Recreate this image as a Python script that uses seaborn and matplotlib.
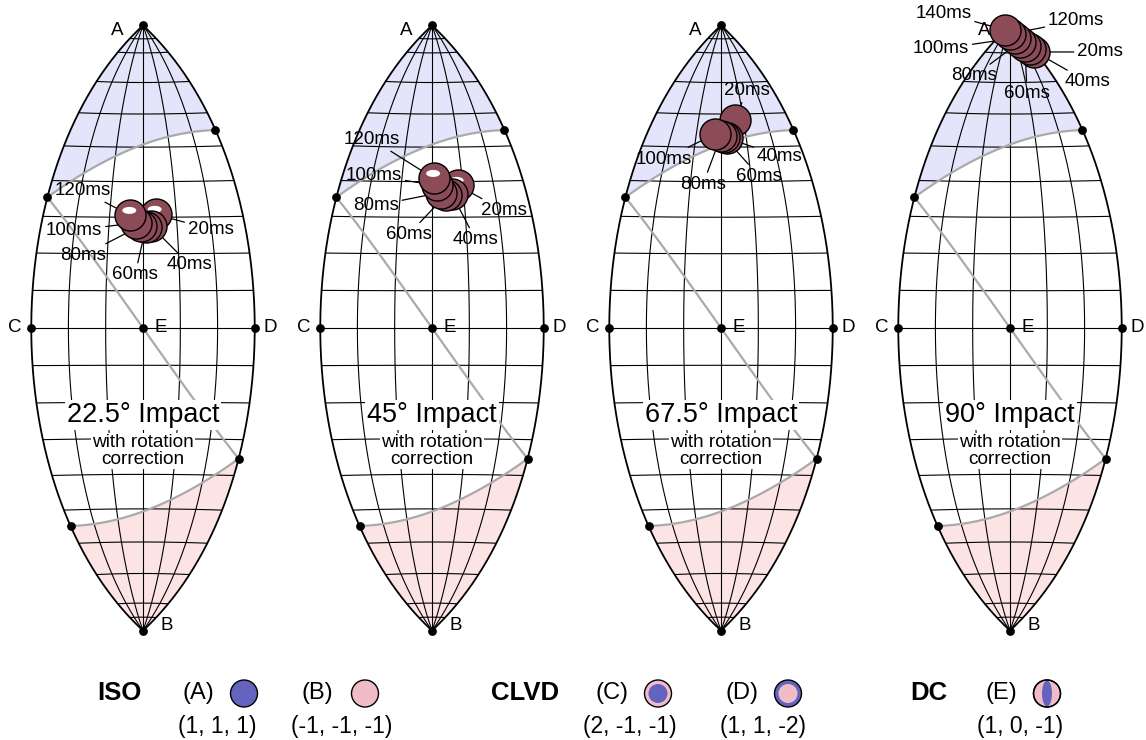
import numpy as np
import matplotlib
matplotlib.use("Agg")
import matplotlib.pyplot as plt
from matplotlib.patches import Circle, Ellipse, Polygon
import seaborn as sns

# ---- data: lune coordinates (longitude gamma, latitude delta, degrees) ----
titles = ["22.5° Impact", "45° Impact", "67.5° Impact", "90° Impact"]
subtitle = "with rotation\ncorrection"

times_1 = ["20ms", "40ms", "60ms", "80ms", "100ms", "120ms"]
lon_1 = [3.8, 2.3, 0.9, -0.6, -2.0, -3.8]
lat_1 = [30.8, 27.6, 27.4, 27.7, 28.5, 30.5]

times_2 = ["20ms", "40ms", "60ms", "80ms", "100ms", "120ms"]
lon_2 = [8.3, 6.2, 4.3, 2.8, 1.6, 0.7]
lat_2 = [38.9, 36.6, 36.1, 36.9, 38.9, 40.9]

times_3 = ["20ms", "40ms", "60ms", "80ms", "100ms"]
lon_3 = [6.1, 2.3, 1.2, 0.0, -2.4]
lat_3 = [58.2, 52.7, 53.0, 53.3, 53.9]

times_4 = ["20ms", "40ms", "60ms", "80ms", "100ms", "120ms", "140ms"]
lon_4 = [28.8, 26.7, 22.7, 18.5, 12.0, 0.0, -28.0]
lat_4 = [80.1, 81.2, 82.3, 83.8, 85.3, 86.8, 88.2]

groups = ["ISO", "CLVD", "DC"]
items = ["(A)", "(B)", "(C)", "(D)", "(E)"]
eigenvalues = ["(1, 1, 1)", "(-1, -1, -1)", "(2, -1, -1)", "(1, 1, -2)", "(1, 0, -1)"]

# ---- layout / style ----
FIG_W, FIG_H = 1146, 740
S = 214.0                       # pixels per projection unit
panel_cx = [143, 432, 721, 1010]
CY = 328
LUNE_BOTTOM = 645

# label offsets in pixels (right, down) from each point
offsets_1 = [(55, 15), (39, 39), (-11, 48), (-58, 30), (-62, 8), (-48, -25)]
offsets_2 = [(46, 25), (24, 46), (-37, 39), (-65, 13), (-63, -10), (-62, -39)]
offsets_3 = [(12, -29), (53, 18), (35, 39), (-18, 48), (-51, 25)]
offsets_4 = [(66, 0), (58, 33), (2, 47), (-46, 34), (-74, 11), (66, -13), (-62, -17)]
shine = [True, True, False, False]

BLUE_FILL = "#e4e4fa"
PINK_FILL = "#fde4e4"
GREY = "#aaaaaa"
POINT = "#8b4b57"
BLUE = "#6464be"
PINK = "#f0bcc8"


def hammer(lon, lat):
    half = np.radians(np.asarray(lon, dtype=float)) / 2
    phi = np.radians(np.asarray(lat, dtype=float))
    d = np.sqrt(1 + np.cos(phi) * np.cos(half))
    return 2 * np.sqrt(2) * np.cos(phi) * np.sin(half) / d, np.sqrt(2) * np.sin(phi) / d


def lune(l1, l2, l3):
    norm = np.sqrt(l1**2 + l2**2 + l3**2)
    lat = 90 - np.degrees(np.arccos((l1 + l2 + l3) / (np.sqrt(3) * norm)))
    lon = np.degrees(np.arctan((-l1 + 2 * l2 - l3) / (np.sqrt(3) * (l1 - l3))))
    return lon, lat


def draw_lune(ax):
    t = np.linspace(0, 1, 100)
    one, zero = np.ones_like(t), np.zeros_like(t)
    up = lune(one, t, zero)             # (1,0,0) -> (1,1,0)
    lo = lune(zero, t - 1, -one)        # (0,-1,-1) -> (0,0,-1)
    mid = lune(1 - t, zero, -t)         # (1,0,0) -> (0,0,-1)

    # shaded regions
    left = np.linspace(up[1][0], 90, 60)
    right = np.linspace(90, up[1][-1], 60)
    plon = np.concatenate([np.full(60, -30.0), np.full(60, 30.0), up[0][::-1]])
    plat = np.concatenate([left, right, up[1][::-1]])
    ax.add_patch(Polygon(np.column_stack(hammer(plon, plat)), closed=True,
                         facecolor=BLUE_FILL, edgecolor="none", zorder=1))
    left = np.linspace(lo[1][0], -90, 60)
    right = np.linspace(-90, lo[1][-1], 60)
    plat = np.concatenate([left, right, lo[1][::-1]])
    plon = np.concatenate([np.full(60, -30.0), np.full(60, 30.0), lo[0][::-1]])
    ax.add_patch(Polygon(np.column_stack(hammer(plon, plat)), closed=True,
                         facecolor=PINK_FILL, edgecolor="none", zorder=1))

    # graticule
    lats = np.linspace(-90, 90, 361)
    for lon in (-20, -10, 0, 10, 20):
        x, y = hammer(np.full_like(lats, lon), lats)
        ax.plot(x, y, color="black", lw=0.8, zorder=2)
    lons = np.linspace(-30, 30, 121)
    for lat in [-85] + list(range(-80, 81, 10)) + [85]:
        x, y = hammer(lons, np.full_like(lons, lat))
        ax.plot(x, y, color="black", lw=0.8, zorder=2)
    for lon in (-30, 30):
        x, y = hammer(np.full_like(lats, lon), lats)
        ax.plot(x, y, color="black", lw=1.3, zorder=3)

    for arc in (up, lo, mid):
        x, y = hammer(*arc)
        ax.plot(x, y, color=GREY, lw=1.6, zorder=3)

    # reference points
    dot_lon = [0, 0, -30, 30, 0, up[0][0], up[0][-1], lo[0][0], lo[0][-1]]
    dot_lat = [90, -90, 0, 0, 0, up[1][0], up[1][-1], lo[1][0], lo[1][-1]]
    dx, dy = hammer(dot_lon, dot_lat)
    ax.scatter(dx, dy, s=28, color="black", zorder=4)
    letter_off = [(-26, 5), (24, -5), (-17, 0), (16, 0), (18, 0)]
    for k, letter in enumerate("ABCDE"):
        ax.annotate(letter, xy=(dx[k], dy[k]), xytext=(letter_off[k][0] * 0.72, -letter_off[k][1] * 0.72),
                    textcoords="offset points", ha="center", va="center", fontsize=13.5, zorder=4)


def draw_panel(i, lon, lat, times, offsets):
    cx = panel_cx[i]
    ax = fig.add_axes([(cx - 144) / FIG_W, (FIG_H - LUNE_BOTTOM) / FIG_H, 288 / FIG_W, LUNE_BOTTOM / FIG_H])
    ax.set_xlim(-144 / S, 144 / S)
    ax.set_ylim(-(LUNE_BOTTOM - CY) / S, CY / S)
    ax.axis("off")
    draw_lune(ax)

    ax.text(0, -87 / S, titles[i], ha="center", va="center", fontsize=19.5, zorder=5,
            bbox=dict(facecolor="white", edgecolor="none", pad=1.5))
    ax.text(0, -123 / S, subtitle, ha="center", va="center", fontsize=13.7, linespacing=1.0, zorder=5,
            bbox=dict(facecolor="white", edgecolor="none", pad=1.0))

    px, py = hammer(lon, lat)
    for name, x, y, (ox, oy) in zip(times, px, py, offsets):
        ax.annotate(name, xy=(x, y), xytext=(ox * 0.72, -oy * 0.72), textcoords="offset points",
                    ha="center", va="center", fontsize=13.5, zorder=6,
                    arrowprops=dict(arrowstyle="-", color="black", lw=0.9, shrinkA=0, shrinkB=0))
    n = len(px)
    for k in range(n):
        sns.scatterplot(x=[px[k]], y=[py[k]], ax=ax, s=500, color=POINT, edgecolor="black",
                        linewidth=1.0, zorder=10 + 2 * k, legend=False)
        if shine[i] and k in (0, n - 1):
            ax.add_patch(Ellipse((px[k] - 1 / S, py[k] + 5 / S), 14 / S, 7 / S,
                                 facecolor="white", edgecolor="none", zorder=11 + 2 * k))


sns.set_theme(style="white")
plt.rcParams["font.family"] = ["Liberation Sans", "DejaVu Sans"]
plt.rcParams["text.color"] = "black"

fig = plt.figure(figsize=(FIG_W / 100, FIG_H / 100), dpi=100)
fig.patch.set_facecolor("white")

draw_panel(0, lon_1, lat_1, times_1, offsets_1)
draw_panel(1, lon_2, lat_2, times_2, offsets_2)
draw_panel(2, lon_3, lat_3, times_3, offsets_3)
draw_panel(3, lon_4, lat_4, times_4, offsets_4)

# ---- legend row ----
leg = fig.add_axes([0, 0, 1, 100 / FIG_H])
leg.set_xlim(0, FIG_W)
leg.set_ylim(FIG_H, FIG_H - 100)
leg.axis("off")

group_x = [119, 525, 929]
item_x = [198, 317, 612, 742, 1001]
circle_x = [244, 365, 658, 788, 1047]
eig_x = [217, 342, 630, 763, 1020]
outer = [BLUE, PINK, PINK, BLUE, PINK]
inner = [None, None, BLUE, PINK, None]

for name, gx in zip(groups, group_x):
    leg.text(gx, 693, name, ha="center", va="center", fontsize=18.5, fontweight="bold")
for k in range(len(items)):
    leg.text(item_x[k], 693, items[k], ha="center", va="center", fontsize=17)
    leg.text(eig_x[k], 727, eigenvalues[k], ha="center", va="center", fontsize=16.5)
    leg.add_patch(Circle((circle_x[k], 693.5), 13.5, facecolor=outer[k], edgecolor="black", lw=1.0))
    if inner[k] is not None:
        leg.add_patch(Circle((circle_x[k], 693.5), 9.5, facecolor=inner[k], edgecolor="none"))
leg.add_patch(Ellipse((circle_x[4], 693.5), 10, 26, facecolor=BLUE, edgecolor="none"))
leg.add_patch(Circle((circle_x[4], 693.5), 13.5, facecolor="none", edgecolor="black", lw=1.0))

fig.savefig("out.png", dpi=100, facecolor="white")
